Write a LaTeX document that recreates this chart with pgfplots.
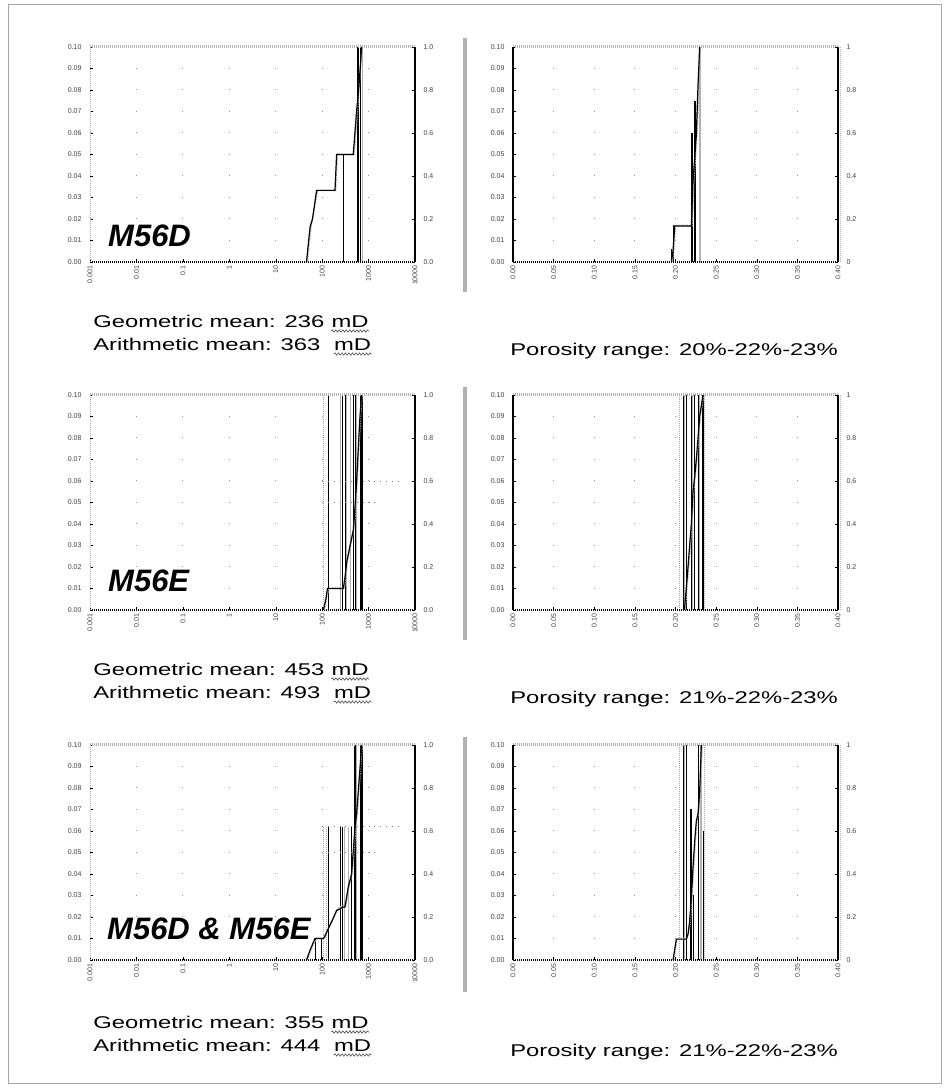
\documentclass[border=0pt]{standalone}
\usepackage{fontspec}
\setmainfont{Liberation Sans}
\usepackage{pgfplots}
\pgfplotsset{compat=1.18}
\usetikzlibrary{decorations.pathmorphing}

\pgfplotsset{
  pcommon/.style={scale only axis, width=325pt, height=215pt,
    axis line style={draw=none},
    tick align=inside, major tick length=3pt, tick style={black, thin},
    xminorticks=false, yminorticks=false,
    tick label style={font=\fontsize{7}{8}\selectfont, text=black!75}},
  pylab/.style={ytick={0,0.01,0.02,0.03,0.04,0.05,0.06,0.07,0.08,0.09,0.1},
    yticklabels={0.00,0.01,0.02,0.03,0.04,0.05,0.06,0.07,0.08,0.09,0.10},
    yticklabel style={xshift=-5pt}},
  pLP/.style={pcommon, pylab, xmin=0.001, xmax=10000, ymin=0, ymax=0.1,
    xtick={0.001,0.01,0.1,1,10,100,1000,10000},
    xticklabels={0.001,0.01,0.1,1,10,100,1000,10000},
    x tick label style={rotate=90, anchor=east},
    tick pos=left, xmajorgrids,
    x grid style={gray!80, line width=0.8pt, dash pattern=on 0.8pt off 20.7pt}},
  pLPR/.style={pcommon, xmin=0.001, xmax=10000, ymin=0, ymax=1,
    hide x axis, axis y line*=right,
    ytick={0,0.2,0.4,0.6,0.8,1}, yticklabels={0.0,0.2,0.4,0.6,0.8,1.0},
    yticklabel style={xshift=5pt}},
  pRP/.style={pcommon, pylab, xmin=0, xmax=0.4, ymin=0, ymax=0.1,
    xtick={0,0.05,0.1,0.15,0.2,0.25,0.3,0.35,0.4},
    xticklabels={0.00,0.05,0.10,0.15,0.20,0.25,0.30,0.35,0.40},
    x tick label style={rotate=90, anchor=east},
    tick pos=left, xmajorgrids,
    x grid style={gray!80, line width=0.8pt, dash pattern=on 0.8pt off 20.7pt}},
  pRPR/.style={pcommon, xmin=0, xmax=0.4, ymin=0, ymax=1,
    hide x axis, axis y line*=right,
    ytick={0,0.2,0.4,0.6,0.8,1}, yticklabels={0,0.2,0.4,0.6,0.8,1},
    yticklabel style={xshift=5pt}},
  pcum/.style={black, line width=1.2pt, no markers},
  pshadow/.style={gray!60, line width=1.5pt, densely dotted, no markers},
  pcombk/.style={ycomb, black, line width=0.6pt, no markers},
  pcombK/.style={ycomb, black, line width=1.8pt, no markers},
  pcombg/.style={ycomb, gray!60, line width=1pt, no markers},
  pcombG/.style={ycomb, gray!60, line width=1.8pt, no markers},
  pcombd/.style={ycomb, gray!70, line width=1pt, dash pattern=on 1pt off 1pt, no markers},
  phdot/.style={gray, line width=0.7pt, dash pattern=on 0.8pt off 5pt, no markers},
}
\newcommand{\topbottom}[2]{%
  \draw[gray!60, line width=3pt, dash pattern=on 1pt off 1pt] (#1,#2+215) -- ++(325,0);
  \draw[black, line width=2.5pt, dash pattern=on 1pt off 1pt] (#1,#2) -- ++(325,0);}
\newcommand{\leftedges}[2]{\topbottom{#1}{#2}
  \draw[gray!70, line width=1pt, dash pattern=on 1pt off 1pt] (#1,#2) -- ++(0,215);
  \draw[black, line width=2pt] (#1+325,#2) -- ++(0,215);}
\newcommand{\rightedges}[2]{\topbottom{#1}{#2}
  \draw[black, line width=2pt] (#1,#2) -- ++(0,215);
  \draw[black, line width=2.5pt] (#1+325,#2) -- ++(0,215);
  \draw[gray!60, line width=1pt, dash pattern=on 1pt off 1pt] (#1+327,#2) -- ++(0,215);}
\tikzset{txt/.style={anchor=base west, inner sep=0pt, font=\fontsize{17}{17}\selectfont, xscale=1.4, transform shape},
  lab/.style={anchor=base west, inner sep=0pt, font=\fontsize{31}{31}\selectfont\bfseries\itshape},
  squig/.style={black!70, line width=0.6pt, decorate, decoration={snake, amplitude=1.2pt, segment length=3.5pt}}}

\begin{document}
\begin{tikzpicture}[x=1pt, y=1pt]
\path[use as bounding box] (0,0) rectangle (948,1090);
\draw[gray!70, line width=1pt] (8,6) rectangle (941,1085);

\draw[gray!60, line width=4pt] (465,1052) -- (465,798);
\draw[gray!60, line width=4pt] (465,703) -- (465,450);
\draw[gray!60, line width=4pt] (465,353) -- (465,98);

%================ ROW 1 =================
\begin{semilogxaxis}[pLP, at={(90pt,828pt)}]
  \addplot[pcombk] coordinates {(286,0.05) (660,0.1)};
  \addplot[pcombK] coordinates {(601,0.1)};
  \addplot[pcombg] coordinates {(745,0.1)};
\end{semilogxaxis}
\leftedges{90}{828}
\begin{semilogxaxis}[pLPR, at={(90pt,828pt)}]
  \addplot[pshadow] coordinates {(48,0) (58,0.17) (80,0.333) (195,0.333) (212,0.5) (485,0.5) (575,0.7) (720,1)};
  \addplot[pcum] coordinates {(46,0) (55,0.163) (62,0.2) (76,0.333) (189,0.333) (205,0.5) (468,0.5) (553,0.705) (580,0.75) (620,0.82) (660,0.9) (708,1.0)};
\end{semilogxaxis}
\node[lab] at (108,843) {M56D};

\begin{axis}[pRP, at={(513pt,828pt)}]
  \addplot[pcombK] coordinates {(0.2205,0.06) (0.2236,0.075)};
  \addplot[pcombk] coordinates {(0.1949,0.006) (0.1975,0.017)};
  \addplot[pcombG] coordinates {(0.2305,0.1)};
\end{axis}
\rightedges{513}{828}
\begin{axis}[pRPR, at={(513pt,828pt)}]
  \addplot[pshadow] coordinates {(0.1960,0) (0.1980,0.06) (0.2000,0.17) (0.2205,0.17) (0.2225,0.38) (0.2246,0.49) (0.2266,0.6) (0.2287,0.83) (0.2307,1.0)};
  \addplot[pcum] coordinates {(0.1949,0) (0.1969,0.05) (0.199,0.167) (0.2195,0.167) (0.2215,0.375) (0.2236,0.483) (0.2256,0.59) (0.2277,0.82) (0.2297,1.0)};
\end{axis}

\node[txt] (g1) at (93,762) {Geometric mean: 236~\mbox{}};
\node[txt] (g1m) at (g1.base east) {mD};
\draw[squig] ([yshift=-3pt]g1m.base west) -- ([yshift=-3pt]g1m.base east);
\node[txt] (a1) at (93,739) {Arithmetic mean: 363~~\mbox{}};
\node[txt] (a1m) at (a1.base east) {mD};
\draw[squig] ([yshift=-3pt]a1m.base west) -- ([yshift=-3pt]a1m.base east);
\node[txt] at (510,734) {Porosity range: 20\%-22\%-23\%};

%================ ROW 2 =================
\begin{semilogxaxis}[pLP, at={(90pt,480pt)}]
  \addplot[pcombd] coordinates {(107,0.1)};
  \addplot[pcombg] coordinates {(252,0.1) (337,0.1) (400,0.1) (553,0.1)};
  \addplot[pcombk] coordinates {(136,0.1) (270,0.1) (310,0.1) (468,0.1) (509,0.1) (653,0.1)};
  \addplot[pcombK] coordinates {(708,0.1)};
\end{semilogxaxis}
\leftedges{90}{480}
\begin{semilogxaxis}[pLPR, at={(90pt,480pt)}]
  \addplot[phdot] coordinates {(100,0.6) (5600,0.6)};
  \addplot[phdot] coordinates {(100,0.5) (1480,0.5)};
  \addplot[pshadow] coordinates {(112,0) (126,0.06) (140,0.1) (300,0.1) (325,0.16) (350,0.23) (415,0.31) (485,0.38) (520,0.46) (575,0.61) (620,0.76) (675,0.91) (725,1.0)};
  \addplot[pcum] coordinates {(107,0) (120,0.05) (130,0.1) (286,0.1) (310,0.15) (337,0.22) (400,0.3) (468,0.37) (500,0.45) (553,0.6) (600,0.75) (653,0.9) (708,1.0)};
\end{semilogxaxis}
\node[lab] at (108,498) {M56E};

\begin{axis}[pRP, at={(513pt,480pt)}]
  \addplot[pcombd] coordinates {(0.2051,0.1) (0.2359,0.1)};
  \addplot[pcombg] coordinates {(0.2113,0.1) (0.2215,0.1) (0.2297,0.1)};
  \addplot[pcombk] coordinates {(0.2092,0.1) (0.2133,0.1) (0.2195,0.1) (0.2236,0.1) (0.2277,0.1)};
  \addplot[pcombK] coordinates {(0.2338,0.1)};
\end{axis}
\rightedges{513}{480}
\begin{axis}[pRPR, at={(513pt,480pt)}]
  \addplot[pshadow] coordinates {(0.2120,0) (0.2140,0.1) (0.2164,0.21) (0.2184,0.31) (0.2205,0.41) (0.2225,0.56) (0.2246,0.63) (0.2266,0.71) (0.2287,0.81) (0.2307,0.91) (0.2348,1.0)};
  \addplot[pcum] coordinates {(0.211,0) (0.213,0.09) (0.2154,0.2) (0.2174,0.3) (0.2195,0.4) (0.2215,0.55) (0.2236,0.62) (0.2256,0.7) (0.2277,0.8) (0.2297,0.9) (0.2338,1.0)};
\end{axis}

\node[txt] (g2) at (93,414) {Geometric mean: 453~\mbox{}};
\node[txt] (g2m) at (g2.base east) {mD};
\draw[squig] ([yshift=-3pt]g2m.base west) -- ([yshift=-3pt]g2m.base east);
\node[txt] (a2) at (93,391) {Arithmetic mean: 493~~\mbox{}};
\node[txt] (a2m) at (a2.base east) {mD};
\draw[squig] ([yshift=-3pt]a2m.base west) -- ([yshift=-3pt]a2m.base east);
\node[txt] at (510,386) {Porosity range: 21\%-22\%-23\%};

%================ ROW 3 =================
\begin{semilogxaxis}[pLP, at={(90pt,130pt)}]
  \addplot[pcombd] coordinates {(107,0.062) (125,0.062)};
  \addplot[pcombk] coordinates {(70,0.01) (95,0.01) (136,0.062) (252,0.062) (270,0.062) (431,0.062) (653,0.1)};
  \addplot[pcombg] coordinates {(310,0.062) (366,0.062) (553,0.1)};
  \addplot[pcombK] coordinates {(509,0.1) (708,0.1)};
\end{semilogxaxis}
\leftedges{90}{130}
\begin{semilogxaxis}[pLPR, at={(90pt,130pt)}]
  \addplot[phdot] coordinates {(100,0.62) (5600,0.62)};
  \addplot[phdot] coordinates {(100,0.5) (1480,0.5)};
  \addplot[pshadow] coordinates {(48,0) (58,0.05) (74,0.1) (112,0.1) (126,0.13) (142,0.155) (178,0.2) (215,0.24) (300,0.255) (325,0.255) (385,0.35) (450,0.41) (530,0.625) (575,0.69) (675,0.9) (725,1.0)};
  \addplot[pcum] coordinates {(46,0) (55,0.046) (70,0.1) (107,0.1) (120,0.12) (136,0.146) (170,0.19) (205,0.23) (286,0.246) (310,0.246) (366,0.34) (431,0.4) (509,0.615) (553,0.68) (653,0.89) (708,1.0)};
\end{semilogxaxis}
\node[lab] at (107,150) {M56D \& M56E};

\begin{axis}[pRP, at={(513pt,130pt)}]
  \addplot[pcombd] coordinates {(0.2051,0.1) (0.2359,0.1)};
  \addplot[pcombk] coordinates {(0.2092,0.1) (0.2133,0.1) (0.2215,0.03) (0.2277,0.1) (0.2338,0.06)};
  \addplot[pcombg] coordinates {(0.2113,0.1)};
  \addplot[pcombK] coordinates {(0.2195,0.07)};
  \addplot[pcombG] coordinates {(0.2318,0.1)};
\end{axis}
\rightedges{513}{130}
\begin{axis}[pRPR, at={(513pt,130pt)}]
  \addplot[pshadow] coordinates {(0.1980,0) (0.2020,0.1) (0.2143,0.1) (0.2164,0.13) (0.2184,0.19) (0.2205,0.3) (0.2225,0.44) (0.2246,0.56) (0.2266,0.65) (0.2287,0.69) (0.2307,0.79) (0.2328,1.0)};
  \addplot[pcum] coordinates {(0.197,0) (0.201,0.097) (0.2133,0.097) (0.2154,0.12) (0.2174,0.18) (0.2195,0.29) (0.2215,0.43) (0.2236,0.55) (0.2256,0.645) (0.2277,0.68) (0.2297,0.78) (0.2318,1.0)};
\end{axis}

\node[txt] (g3) at (93,61) {Geometric mean: 355~\mbox{}};
\node[txt] (g3m) at (g3.base east) {mD};
\draw[squig] ([yshift=-3pt]g3m.base west) -- ([yshift=-3pt]g3m.base east);
\node[txt] (a3) at (93,38) {Arithmetic mean: 444~~\mbox{}};
\node[txt] (a3m) at (a3.base east) {mD};
\draw[squig] ([yshift=-3pt]a3m.base west) -- ([yshift=-3pt]a3m.base east);
\node[txt] at (510,33) {Porosity range: 21\%-22\%-23\%};
\end{tikzpicture}
\end{document}
